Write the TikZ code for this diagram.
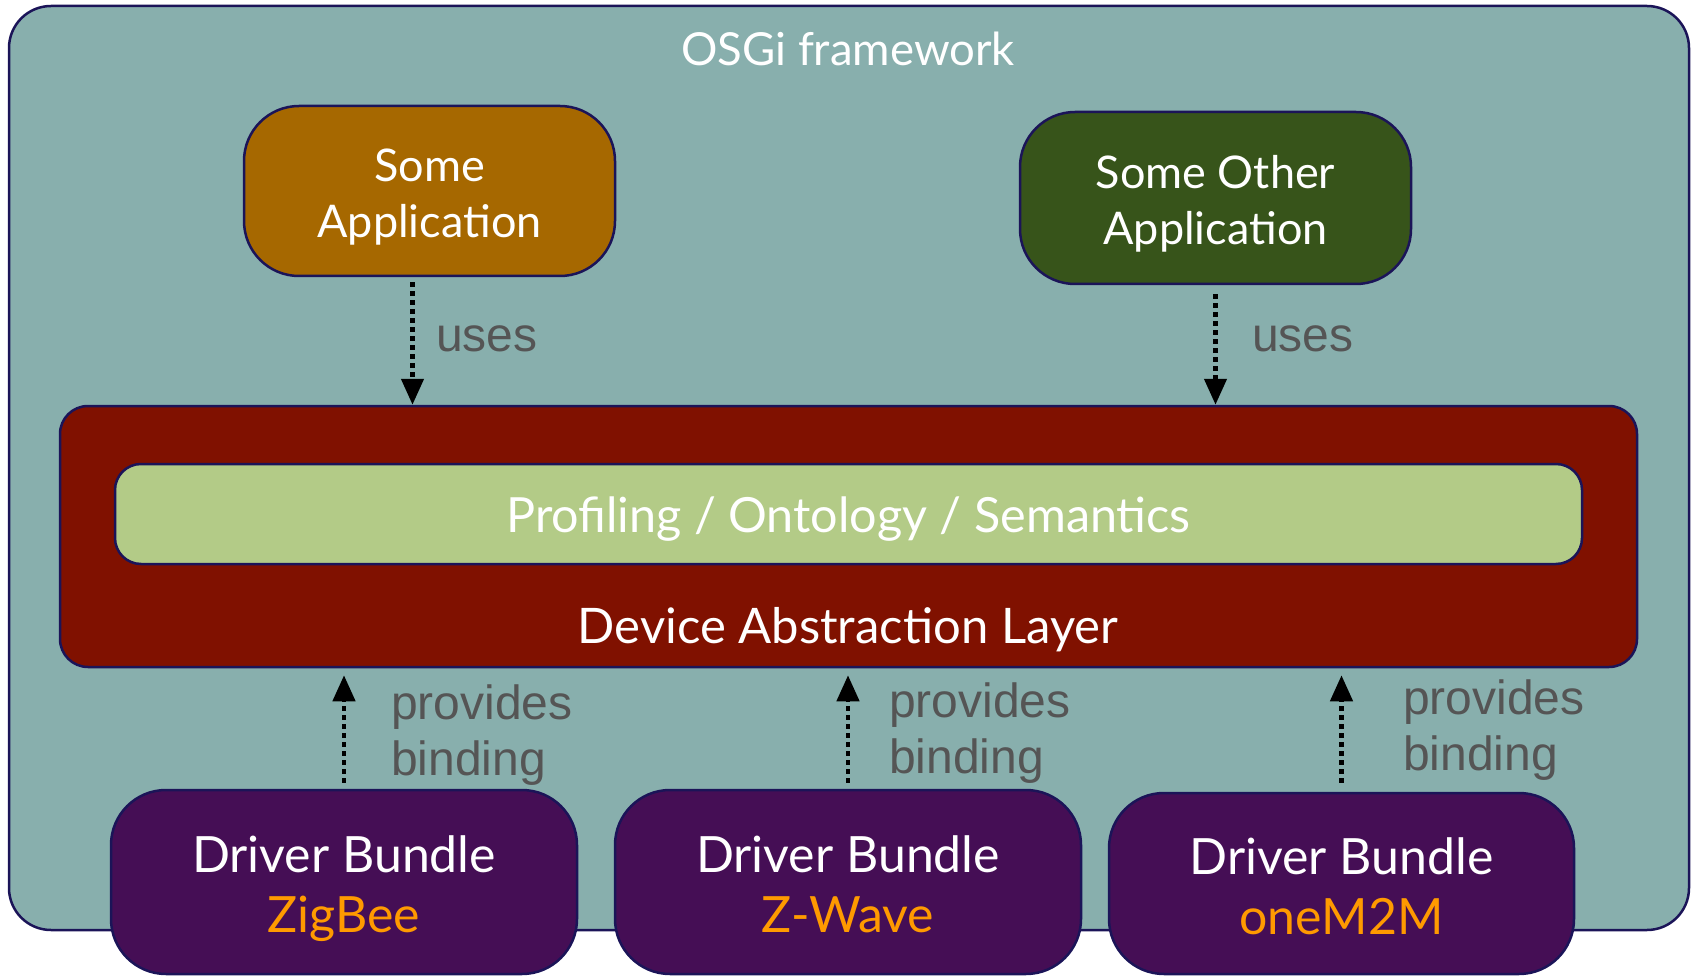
\documentclass[tikz,border=0pt]{standalone}
\usepackage{fontspec}
\setmainfont{Lato}
\newfontfamily\labelfont{Liberation Sans}
\usetikzlibrary{arrows.meta}
\definecolor{framebg}{HTML}{88AFAD}
\definecolor{navyline}{HTML}{1B1458}
\definecolor{appbrown}{HTML}{A66800}
\definecolor{appgreen}{HTML}{37541A}
\definecolor{dalred}{HTML}{801100}
\definecolor{profgreen}{HTML}{B3CB87}
\definecolor{drvpurple}{HTML}{450E55}
\definecolor{drvorange}{HTML}{FF9A00}
\definecolor{labelgray}{HTML}{555555}
\newcommand{\drvname}[1]{\textcolor{drvorange}{#1\vphantom{g}}}

\begin{document}
\begin{tikzpicture}[x=1pt,y=-1pt,
	box/.style={draw=navyline, line width=2.5pt, rounded corners=#1, inner sep=0pt},
	box/.default=55pt,
	boxtext/.style={text=white, align=center, inner sep=0pt, font=\fontsize{#1}{56}\selectfont},
	boxtext/.default=45,
	drvtext/.style={text=white, align=center, inner sep=0pt, font=\fontsize{50}{60}\selectfont},
	uses/.style={line width=4.5pt, dash pattern=on 5pt off 4pt, -{Triangle[length=26pt,width=22pt]}},
	usestext/.style={text=labelgray, align=left, anchor=west, inner sep=0pt, font=\labelfont\fontsize{48}{56}\selectfont}]
	\useasboundingbox (0,0) rectangle (1692,976);
	
	% framework
	\node[box=42pt, fill=framebg, minimum width=1680pt, minimum height=924pt] (osgi) at (849,468) {};
	\node[boxtext=45.5] (osgititle) at (848,49) {OSGi framework};
	
	% applications
	\node[box, fill=appbrown, minimum width=371pt, minimum height=170pt] (someapp) at (429.5,191) {};
	\node[boxtext] (someapptext) at ([yshift=-6.5pt]someapp.center) {Some\\Application};
	\node[box, fill=appgreen, minimum width=391pt, minimum height=172pt] (otherapp) at (1215.5,198) {};
	\node[boxtext] (otherapptext) at ([yshift=-6pt]otherapp.center) {Some Other\\Application};
	
	% abstraction layer
	\node[box=28pt, fill=dalred, minimum width=1577pt, minimum height=261pt] (dal) at (848.5,536.5) {};
	\node[box=26pt, fill=profgreen, minimum width=1467pt, minimum height=100pt] (profiling) at (848.5,514) {};
	\node[boxtext=48.5] (profilingtext) at ([yshift=-5pt]profiling.center) {Profiling / Ontology / Semantics};
	\node[boxtext=49] (daltext) at (848,630) {Device Abstraction Layer};
	
	% drivers
	\node[box, fill=drvpurple, minimum width=466pt, minimum height=184pt] (zigbee) at (344,882) {};
	\node[box, fill=drvpurple, minimum width=466pt, minimum height=184pt] (zwave) at (848,882) {};
	\node[box, fill=drvpurple, minimum width=465pt, minimum height=181pt] (onem2m) at (1341.5,883.5) {};
	\node[drvtext] (zigbeetext) at ([yshift=-7pt]zigbee.center) {Driver Bundle\\\drvname{ZigBee}};
	\node[drvtext] (zwavetext) at ([yshift=-7pt]zwave.center) {Driver Bundle\\\drvname{Z-Wave}};
	\node[drvtext] (onem2mtext) at ([yshift=-7pt]onem2m.center) {Driver Bundle\\\drvname{oneM2M}};
	
	% uses
	\draw[uses] ([xshift=-17pt,yshift=-5pt]someapp.south) -- ([xshift=-17pt]someapp.south |- dal.north);
	\draw[uses] ([yshift=-9pt]otherapp.south) -- (otherapp.south |- dal.north);
	\node[usestext] (uses1) at (436,339) {uses};
	\node[usestext] (uses2) at (1252,339) {uses};
	
	% bindings
	\draw[uses] ([yshift=6pt]zigbee.north) -- ([yshift=-7pt]zigbee.north |- dal.south);
	\draw[uses] ([yshift=6pt]zwave.north) -- ([yshift=-7pt]zwave.north |- dal.south);
	\draw[uses] ([yshift=9pt]onem2m.north) -- ([yshift=-7pt]onem2m.north |- dal.south);
	\node[usestext] (binding1) at (391,735) {provides\\binding};
	\node[usestext] (binding2) at (889,733) {provides\\binding};
	\node[usestext] (binding3) at (1403,730) {provides\\binding};
\end{tikzpicture}
\end{document}
